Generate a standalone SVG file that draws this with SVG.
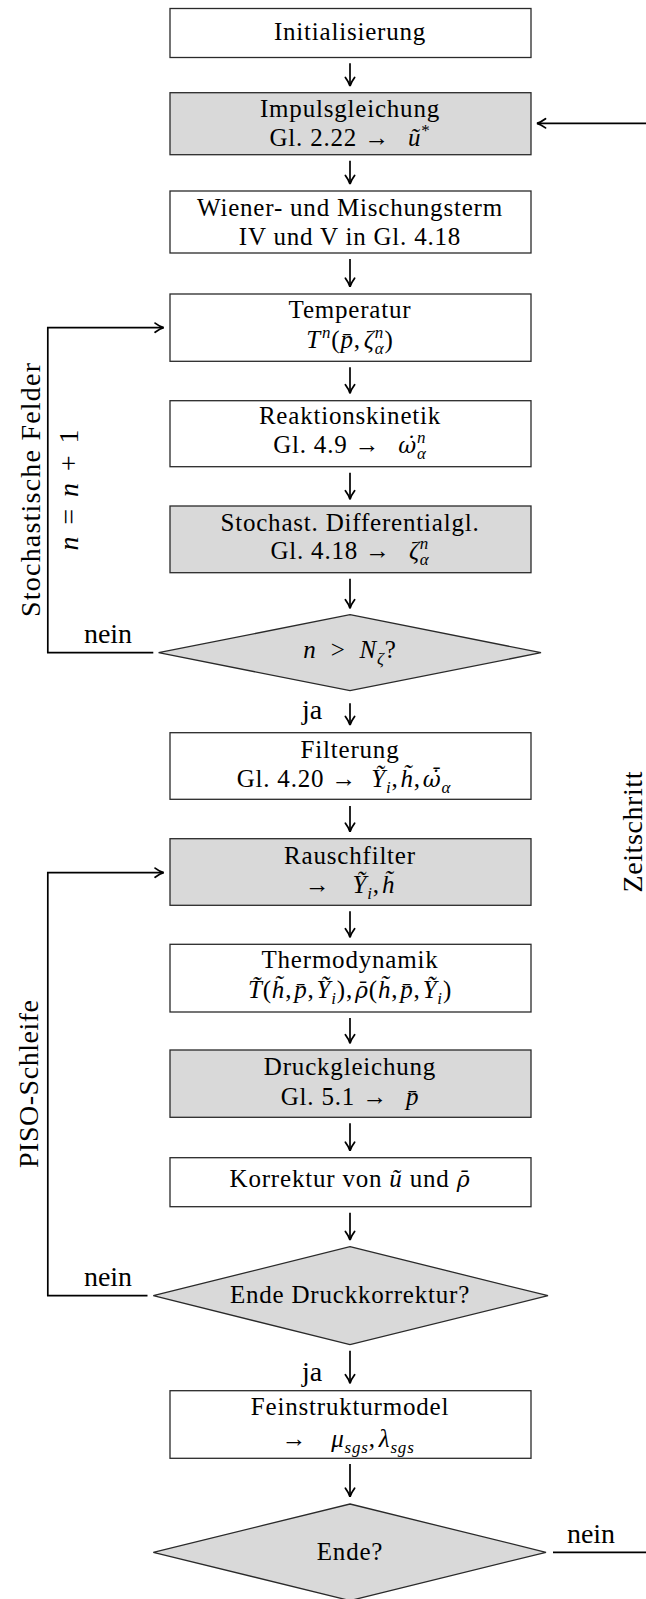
<svg xmlns="http://www.w3.org/2000/svg" width="646" height="1599" viewBox="0 0 646 1599">
  <style>
    .box { fill: #ffffff; stroke: #2a2a2a; stroke-width: 1.3; }
    .gray { fill: #d9d9d9; }
    .t { font-family: "Liberation Serif", "Times New Roman", serif; font-size: 25px; letter-spacing: 0.8px; fill: #000000; text-anchor: middle; }
    .lbl { font-family: "Liberation Serif", "Times New Roman", serif; font-size: 28px; fill: #000000; text-anchor: middle; }
    .m { font-style: italic; }
    .acc { font-family: "DejaVu Serif", serif; font-style: italic; font-size: 22px; letter-spacing: 0.8px; }
    .sup { font-size: 17px; }
    .sub { font-size: 17px; }
    .conn { fill: none; stroke: #000000; stroke-width: 1.7; }
    .arr { marker-end: url(#tip); }
  </style>
  <defs>
    <marker id="tip" markerUnits="userSpaceOnUse" markerWidth="12" markerHeight="12" viewBox="-10 -6 12 12" refX="0" refY="0" orient="auto" overflow="visible">
      <path d="M-8.5,-4.6 Q-3.5,-0.9 0,0 Q-3.5,0.9 -8.5,4.6" fill="none" stroke="#000" stroke-width="1.8" stroke-linecap="round"/>
    </marker>
  </defs>

  <!-- process steps -->
  <g id="init">
    <rect class="box" x="170" y="8.5" width="361" height="49"/>
    <text class="t" x="350" y="40">Initialisierung</text>
  </g>
  <g id="impuls">
    <rect class="box gray" x="170" y="92.7" width="361" height="62"/>
    <text class="t" x="350" y="117.3">Impulsgleichung</text>
    <text class="t" x="350" y="145.7">Gl. 2.22 →<tspan class="m" dx="18">ũ</tspan><tspan class="sup" dy="-10">*</tspan></text>
  </g>
  <g id="wiener">
    <rect class="box" x="170" y="191" width="361" height="62"/>
    <text class="t" x="350" y="216">Wiener- und Mischungsterm</text>
    <text class="t" x="350" y="245">IV und V in Gl. 4.18</text>
  </g>
  <g id="temperatur">
    <rect class="box" x="170" y="294" width="361" height="67.3"/>
    <text class="t" x="350" y="318.3">Temperatur</text>
    <text class="t" x="350" y="348.3"><tspan class="m">T</tspan><tspan class="sup m" dx="1" dy="-10">n</tspan><tspan dy="10">(</tspan><tspan class="m">p&#x304;</tspan>,<tspan class="m" dx="3">ζ</tspan><tspan class="sup m" dy="-10">n</tspan><tspan class="sub m" dx="-9.3" dy="16">α</tspan><tspan dy="-6">)</tspan></text>
  </g>
  <g id="reaktion">
    <rect class="box" x="170" y="400.7" width="361" height="66"/>
    <text class="t" x="350" y="424.3">Reaktionskinetik</text>
    <text class="t" x="350" y="453.3">Gl. 4.9 →<tspan class="acc" dx="18">ω&#x307;</tspan><tspan class="sup m" dy="-10">n</tspan><tspan class="sub m" dx="-9.3" dy="16">α</tspan></text>
  </g>
  <g id="stochast">
    <rect class="box gray" x="170" y="506" width="361" height="66.7"/>
    <text class="t" x="350" y="530.7">Stochast. Differentialgl.</text>
    <text class="t" x="350" y="559.3">Gl. 4.18 →<tspan class="m" dx="18">ζ</tspan><tspan class="sup m" dy="-10">n</tspan><tspan class="sub m" dx="-9.3" dy="16">α</tspan></text>
  </g>
  <g id="abfrage-n">
    <polygon class="box gray" points="350,614.7 541,652.7 350,690.7 158.6,652.7"/>
    <text class="t" x="350" y="658.3"><tspan class="m">n</tspan><tspan dx="14">&gt;</tspan><tspan class="m" dx="14">N</tspan><tspan class="sub m" dy="6">ζ</tspan><tspan dy="-6">?</tspan></text>
  </g>
  <g id="filterung">
    <rect class="box" x="170" y="732.7" width="361" height="66.6"/>
    <text class="t" x="346" y="758.3" dx="4">Filterung</text>
    <text class="t" x="344" y="787.3">Gl. 4.20 →<tspan class="m" dx="14">Ỹ</tspan><tspan class="sub m" dy="6">i</tspan><tspan dy="-6">,</tspan><tspan class="m" dx="2">h&#x303;</tspan>,<tspan class="acc" dx="2">ω&#x307;&#x304;</tspan><tspan class="sub m" dy="6">α</tspan></text>
  </g>
  <g id="rauschfilter">
    <rect class="box gray" x="170" y="838.7" width="361" height="66.6"/>
    <text class="t" x="350" y="864">Rauschfilter</text>
    <text class="t" x="350" y="893.3">→<tspan class="m" dx="22">Ỹ</tspan><tspan class="sub m" dy="6">i</tspan><tspan dy="-6">,</tspan><tspan class="m" dx="2">h&#x303;</tspan></text>
  </g>
  <g id="thermodynamik">
    <rect class="box" x="170" y="944.3" width="361" height="67.7"/>
    <text class="t" x="350" y="968.3">Thermodynamik</text>
    <text class="t" x="350" y="998.3"><tspan class="m">T&#x303;</tspan>(<tspan class="m">h&#x303;</tspan>,<tspan class="m" dx="2">p&#x304;</tspan>,<tspan class="m" dx="2">Ỹ</tspan><tspan class="sub m" dy="6">i</tspan><tspan dy="-6">),</tspan><tspan class="acc" dx="2">ρ&#x304;</tspan>(<tspan class="m">h&#x303;</tspan>,<tspan class="m" dx="2">p&#x304;</tspan>,<tspan class="m" dx="2">Ỹ</tspan><tspan class="sub m" dy="6">i</tspan><tspan dy="-6">)</tspan></text>
  </g>
  <g id="druckgleichung">
    <rect class="box gray" x="170" y="1050" width="361" height="67.3"/>
    <text class="t" x="350" y="1075">Druckgleichung</text>
    <text class="t" x="350" y="1105">Gl. 5.1 →<tspan class="m" dx="18">p&#x304;</tspan></text>
  </g>
  <g id="korrektur">
    <rect class="box" x="170" y="1157.7" width="361" height="49"/>
    <text class="t" x="350" y="1187.3">Korrektur von <tspan class="m">ũ</tspan> und <tspan class="acc">ρ&#x304;</tspan></text>
  </g>
  <g id="abfrage-druck">
    <polygon class="box gray" points="350,1246.7 548,1295.7 350,1344.7 153.3,1295.7"/>
    <text class="t" x="350" y="1303.3">Ende Druckkorrektur?</text>
  </g>
  <g id="feinstruktur">
    <rect class="box" x="170" y="1390.7" width="361" height="67.6"/>
    <text class="t" x="350" y="1415">Feinstrukturmodel</text>
    <text class="t" x="348" y="1447.3">→<tspan class="m" dx="24">μ</tspan><tspan class="sub m" dy="6">sgs</tspan><tspan dy="-6">,</tspan><tspan class="m" dx="3">λ</tspan><tspan class="sub m" dy="6">sgs</tspan></text>
  </g>
  <g id="abfrage-ende">
    <polygon class="box gray" points="350,1504 546,1552.3 350,1600.6 153.3,1552.3"/>
    <text class="t" x="350" y="1560">Ende?</text>
  </g>

  <!-- connectors -->
  <g id="connectors">
    <path class="conn arr" d="M350,63.3 V86"/>
    <path class="conn arr" d="M350,160.7 V184"/>
    <path class="conn arr" d="M350,259 V286.7"/>
    <path class="conn arr" d="M350,367.3 V393.3"/>
    <path class="conn arr" d="M350,472.7 V499.3"/>
    <path class="conn arr" d="M350,578.7 V608.3"/>
    <path class="conn arr" d="M350,703.3 V725"/>
    <path class="conn arr" d="M350,806 V831.7"/>
    <path class="conn arr" d="M350,911.3 V937.3"/>
    <path class="conn arr" d="M350,1018 V1043.3"/>
    <path class="conn arr" d="M350,1123.3 V1150.7"/>
    <path class="conn arr" d="M350,1212.7 V1240"/>
    <path class="conn arr" d="M350,1350.7 V1383.3"/>
    <path class="conn arr" d="M350,1464 V1496.7"/>
    <!-- stochastic field loop -->
    <path class="conn arr" d="M153.3,652.7 H47.8 V327.7 H163.6"/>
    <!-- PISO loop -->
    <path class="conn arr" d="M147.5,1295.7 H47.8 V872.7 H163.6"/>
    <!-- time step loop -->
    <path class="conn" d="M553,1552.3 H650"/>
    <path class="conn arr" d="M650,123.3 H537"/>
  </g>

  <!-- loop labels -->
  <g id="labels">
    <text class="lbl" x="108" y="643">nein</text>
    <text class="lbl" x="312" y="719">ja</text>
    <text class="lbl" x="108" y="1286">nein</text>
    <text class="lbl" x="312" y="1380.7">ja</text>
    <text class="lbl" x="591" y="1543">nein</text>
    <text class="lbl" transform="translate(40,490) rotate(-90)" textLength="254" lengthAdjust="spacing">Stochastische Felder</text>
    <text class="lbl" transform="translate(78,490) rotate(-90)" textLength="121" lengthAdjust="spacing"><tspan class="m">n</tspan> = <tspan class="m">n</tspan> + 1</text>
    <text class="lbl" transform="translate(38,1084) rotate(-90)" textLength="168" lengthAdjust="spacing">PISO-Schleife</text>
    <text class="lbl" transform="translate(642,832) rotate(-90)" textLength="121" lengthAdjust="spacing">Zeitschritt</text>
  </g>
</svg>
